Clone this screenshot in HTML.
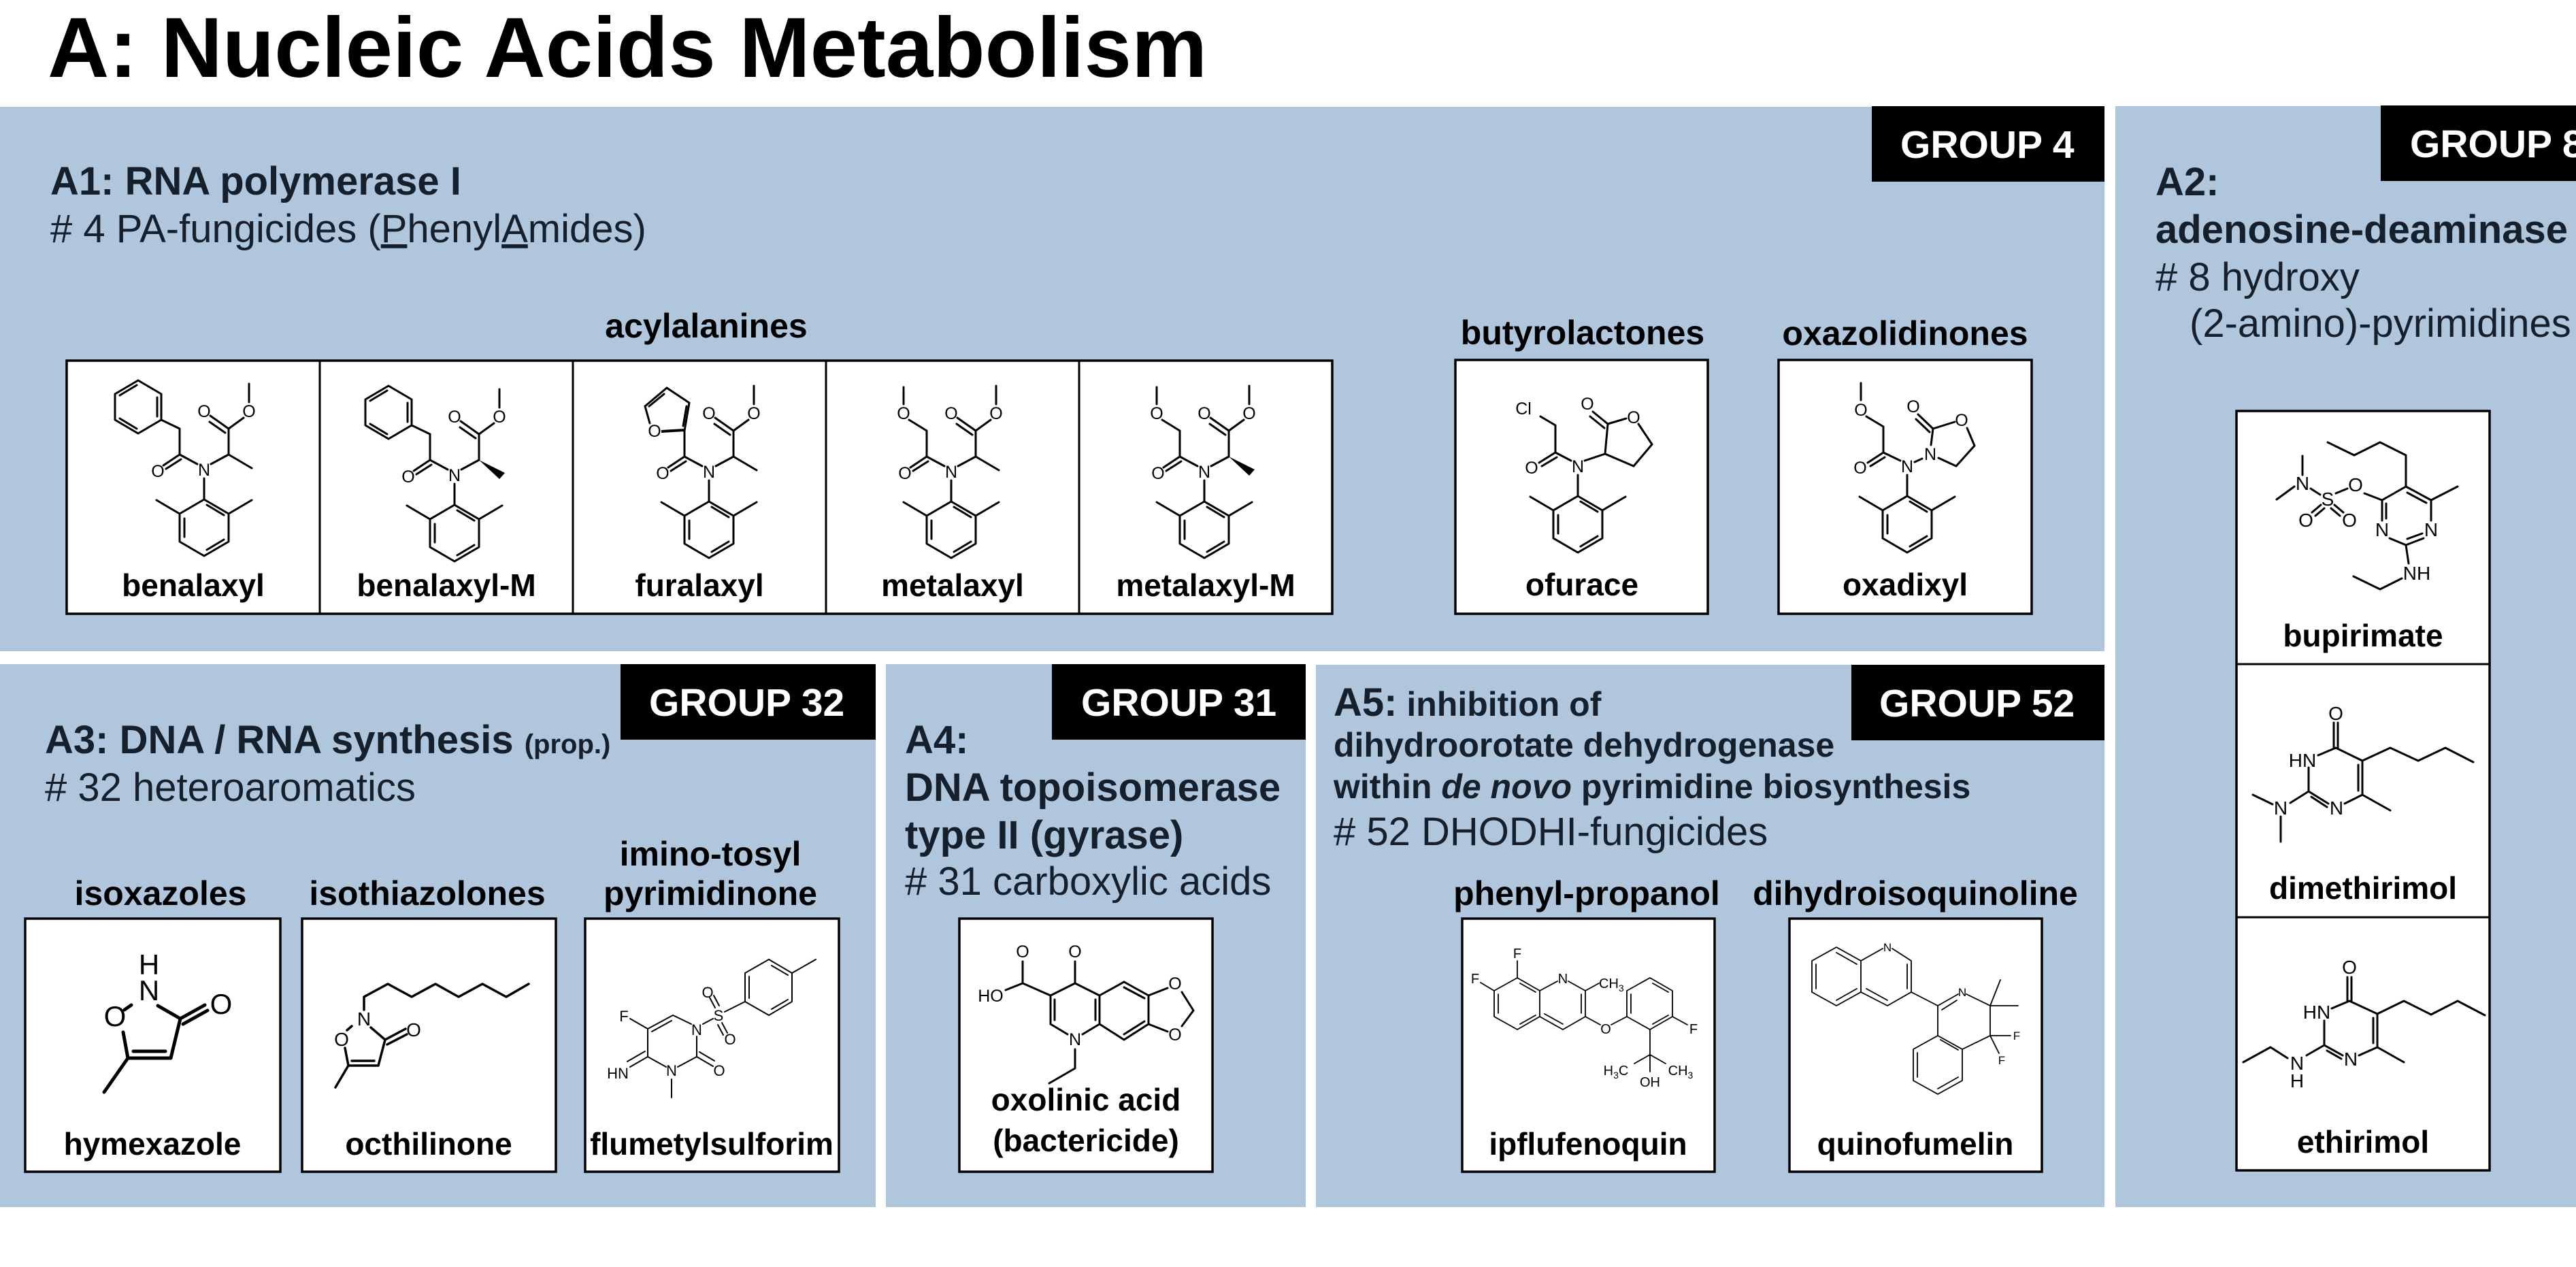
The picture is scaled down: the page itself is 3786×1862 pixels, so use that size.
<!DOCTYPE html>
<html><head><meta charset="utf-8">
<style>
html,body{margin:0;padding:0;background:#fff;width:3786px;height:1862px;overflow:hidden}
svg{display:block}
.h{font-weight:bold;font-size:58px;fill:#16202c}
.r{font-size:58px;fill:#16202c}
.s{font-weight:bold;font-size:50px;fill:#000;text-anchor:middle}
.lb{font-weight:bold;font-size:46px;fill:#000;text-anchor:middle}
.g{font-weight:bold;font-size:57px;fill:#fff}
.bx{fill:#fff;stroke:#000;stroke-width:3.5}
.m{stroke:#000;fill:none;stroke-width:3;stroke-linecap:round;stroke-linejoin:round}
.a{font-size:25px;fill:#000;text-anchor:middle}
.a2{font-size:28px;fill:#000;text-anchor:middle}
.a3{font-size:22px;fill:#000;text-anchor:middle}
.a4{font-size:20px;fill:#000;text-anchor:middle}
.a5{font-size:17px;fill:#000;text-anchor:middle}
</style></head><body>
<svg width="3786" height="1862" viewBox="0 0 3786 1862" font-family="'Liberation Sans', Arial, sans-serif">
<!-- title -->
<text x="70" y="113" font-size="125" font-weight="bold" fill="#000">A: Nucleic Acids Metabolism</text>

<!-- panels -->
<rect x="0" y="157" width="3093" height="800" fill="#afc6dc"/>
<rect x="3109" y="156" width="677" height="1618" fill="#afc6dc"/>
<rect x="0" y="976" width="1287" height="798" fill="#afc6dc"/>
<rect x="1302" y="976" width="617" height="798" fill="#afc6dc"/>
<rect x="1934" y="977" width="1159" height="797" fill="#afc6dc"/>

<!-- group tags -->
<rect x="2751" y="156" width="342" height="111" fill="#000"/>
<text class="g" x="2793" y="232">GROUP 4</text>
<rect x="3499" y="155" width="300" height="111" fill="#000"/>
<text class="g" x="3542" y="231">GROUP 8</text>
<rect x="912" y="976" width="375" height="111" fill="#000"/>
<text class="g" x="954" y="1052">GROUP 32</text>
<rect x="1546" y="976" width="373" height="111" fill="#000"/>
<text class="g" x="1589" y="1052">GROUP 31</text>
<rect x="2721" y="977" width="372" height="111" fill="#000"/>
<text class="g" x="2762" y="1053">GROUP 52</text>

<!-- A1 header -->
<text class="h" x="74" y="286">A1: RNA polymerase I</text>
<text class="r" x="74" y="356"># 4 PA-fungicides (<tspan style="text-decoration:underline">P</tspan>henyl<tspan style="text-decoration:underline">A</tspan>mides)</text>

<!-- A2 header -->
<text class="h" x="3168" y="287">A2:</text>
<text class="h" x="3168" y="357">adenosine-deaminase</text>
<text class="r" x="3168" y="427"># 8 hydroxy</text>
<text class="r" x="3218" y="495">(2-amino)-pyrimidines</text>

<!-- A3 header -->
<text class="h" x="66" y="1107">A3: DNA / RNA synthesis <tspan font-size="40">(prop.)</tspan></text>
<text class="r" x="66" y="1177"># 32 heteroaromatics</text>

<!-- A4 header -->
<text class="h" x="1330" y="1107">A4:</text>
<text class="h" x="1330" y="1177">DNA topoisomerase</text>
<text class="h" x="1330" y="1247">type II (gyrase)</text>
<text class="r" x="1330" y="1315"># 31 carboxylic acids</text>

<!-- A5 header -->
<text class="h" x="1960" y="1052">A5:<tspan font-size="50"> inhibition of</tspan></text>
<text class="h" x="1960" y="1112" style="font-size:50px">dihydroorotate dehydrogenase</text>
<text class="h" x="1960" y="1173" style="font-size:50px">within <tspan font-style="italic">de novo</tspan> pyrimidine biosynthesis</text>
<text class="r" x="1960" y="1242"># 52 DHODHI-fungicides</text>

<!-- sub headers -->
<text class="s" x="1038" y="496">acylalanines</text>
<text class="s" x="2326" y="506">butyrolactones</text>
<text class="s" x="2800" y="507">oxazolidinones</text>
<text class="s" x="236" y="1330">isoxazoles</text>
<text class="s" x="628" y="1330">isothiazolones</text>
<text class="s" x="1044" y="1272">imino-tosyl</text>
<text class="s" x="1044" y="1330">pyrimidinone</text>
<text class="s" x="2332" y="1330">phenyl-propanol</text>
<text class="s" x="2815" y="1330">dihydroisoquinoline</text>

<!-- boxes -->
<rect class="bx" x="98" y="530" width="1860" height="372"/>
<path d="M470,530V902M842,530V902M1214,530V902M1586,530V902" stroke="#000" stroke-width="3"/>
<rect class="bx" x="2139" y="529" width="371" height="373"/>
<rect class="bx" x="2614" y="529" width="372" height="373"/>
<rect class="bx" x="3287" y="604" width="372" height="1116"/>
<path d="M3287,976H3659M3287,1348H3659" stroke="#000" stroke-width="3"/>
<rect class="bx" x="37" y="1350" width="375" height="372"/>
<rect class="bx" x="444" y="1350" width="373" height="372"/>
<rect class="bx" x="860" y="1350" width="373" height="372"/>
<rect class="bx" x="1410" y="1350" width="372" height="372"/>
<rect class="bx" x="2149" y="1350" width="371" height="372"/>
<rect class="bx" x="2630" y="1350" width="371" height="372"/>

<!-- labels -->
<text class="lb" x="284" y="876">benalaxyl</text>
<text class="lb" x="656" y="876">benalaxyl-M</text>
<text class="lb" x="1028" y="876">furalaxyl</text>
<text class="lb" x="1400" y="876">metalaxyl</text>
<text class="lb" x="1772" y="876">metalaxyl-M</text>
<text class="lb" x="2325" y="875">ofurace</text>
<text class="lb" x="2800" y="875">oxadixyl</text>
<text class="lb" x="3473" y="950">bupirimate</text>
<text class="lb" x="3473" y="1321">dimethirimol</text>
<text class="lb" x="3473" y="1694">ethirimol</text>
<text class="lb" x="224" y="1697">hymexazole</text>
<text class="lb" x="630" y="1697">octhilinone</text>
<text class="lb" x="1046" y="1697">flumetylsulforim</text>
<text class="lb" x="1596" y="1632">oxolinic acid</text>
<text class="lb" x="1596" y="1692">(bactericide)</text>
<text class="lb" x="2334" y="1697">ipflufenoquin</text>
<text class="lb" x="2815" y="1697">quinofumelin</text>

<!-- benalaxyl -->
<g transform="translate(300,690)">
<path class="m" d="M-10,-8L-36,-22M-36,-22L-60,-6M-34,-15L-56,-1M10,-8L36,-22M36,-22L36,-60M36,-60L9,-79M31,-54L8,-70M36,-60L58,-76M66,-99L66,-126M0,13L0,44M0,44L36,65L36,106L0,127L-36,106L-36,65ZM4,52L29,67M-29,72L-29,99M29,103L4,118M-36,65L-70,45M36,65L70,45M36,-22L70,-2M-36,-22L-36,-60M-36,-60L-63,-73M-97,-131L-63,-111L-63,-73L-97,-53L-131,-73L-131,-111ZM-69,-106L-69,-78M-99,-60L-124,-75M-99,-124L-124,-109"/>
<text class="a" x="0" y="9">N</text><text class="a" x="-68" y="11">O</text><text class="a" x="0" y="-77">O</text><text class="a" x="66" y="-77">O</text>
</g>
<!-- benalaxyl-M -->
<g transform="translate(668,698)">
<path class="m" d="M-10,-8L-36,-22M-36,-22L-60,-6M-34,-15L-56,-1M10,-8L36,-22M36,-22L36,-60M36,-60L9,-79M31,-54L8,-70M36,-60L58,-76M66,-99L66,-126M0,13L0,44M0,44L36,65L36,106L0,127L-36,106L-36,65ZM4,52L29,67M-29,72L-29,99M29,103L4,118M-36,65L-70,45M36,65L70,45M-36,-22L-36,-60M-36,-60L-63,-73M-97,-131L-63,-111L-63,-73L-97,-53L-131,-73L-131,-111ZM-69,-106L-69,-78M-99,-60L-124,-75M-99,-124L-124,-109"/>
<path d="M36,-22L66,6L74,-3Z" fill="#000"/>
<text class="a" x="0" y="9">N</text><text class="a" x="-68" y="11">O</text><text class="a" x="0" y="-77">O</text><text class="a" x="66" y="-77">O</text>
</g>
<!-- furalaxyl -->
<g transform="translate(1042,693)">
<path class="m" d="M-10,-8L-36,-22M-36,-22L-60,-6M-34,-15L-56,-1M10,-8L36,-22M36,-22L36,-60M36,-60L9,-79M31,-54L8,-70M36,-60L58,-76M66,-99L66,-126M0,13L0,44M0,44L36,65L36,106L0,127L-36,106L-36,65ZM4,52L29,67M-29,72L-29,99M29,103L4,118M-36,65L-70,45M36,65L70,45M36,-22L70,-2M-36,-22L-36,-60M-36,-60L-29,-101M-38,-67L-33,-96M-29,-101L-62,-123M-62,-123L-94,-96M-66,-114L-88,-96M-94,-96L-87,-71"/>
<path d="M-70,-59L-36,-61" stroke="#000" stroke-width="4"/>
<text class="a" x="0" y="9">N</text><text class="a" x="-68" y="11">O</text><text class="a" x="0" y="-77">O</text><text class="a" x="66" y="-77">O</text><text class="a" x="-80" y="-51">O</text>
</g>
<!-- metalaxyl -->
<g transform="translate(1398,693)">
<path class="m" d="M-10,-8L-36,-22M-36,-22L-60,-6M-34,-15L-56,-1M10,-8L36,-22M36,-22L36,-60M36,-60L9,-79M31,-54L8,-70M36,-60L58,-76M66,-99L66,-126M0,13L0,44M0,44L36,65L36,106L0,127L-36,106L-36,65ZM4,52L29,67M-29,72L-29,99M29,103L4,118M-36,65L-70,45M36,65L70,45M36,-22L70,-2M-36,-22L-36,-60M-36,-60L-62,-76M-70,-99L-70,-124"/>
<text class="a" x="0" y="9">N</text><text class="a" x="-68" y="11">O</text><text class="a" x="0" y="-77">O</text><text class="a" x="66" y="-77">O</text><text class="a" x="-70" y="-77">O</text>
</g>
<!-- metalaxyl-M -->
<g transform="translate(1770,693)">
<path class="m" d="M-10,-8L-36,-22M-36,-22L-60,-6M-34,-15L-56,-1M10,-8L36,-22M36,-22L36,-60M36,-60L9,-79M31,-54L8,-70M36,-60L58,-76M66,-99L66,-126M0,13L0,44M0,44L36,65L36,106L0,127L-36,106L-36,65ZM4,52L29,67M-29,72L-29,99M29,103L4,118M-36,65L-70,45M36,65L70,45M-36,-22L-36,-60M-36,-60L-62,-76M-70,-99L-70,-124"/>
<path d="M36,-22L66,6L74,-3Z" fill="#000"/>
<text class="a" x="0" y="9">N</text><text class="a" x="-68" y="11">O</text><text class="a" x="0" y="-77">O</text><text class="a" x="66" y="-77">O</text><text class="a" x="-70" y="-77">O</text>
</g>
<!-- ofurace -->
<g transform="translate(2319,685)">
<path class="m" d="M-10,-8L-33,-20M-33,-20L-57,-5M-31,-13L-53,0M-33,-20L-33,-60M-33,-60L-55,-73M10,-8L40,-18M40,-18L44,-62M44,-62L22,-80M39,-56L18,-73M44,-62L71,-70M89,-62L109,-32M109,-32L82,0M82,0L40,-18M0,13L0,44M0,44L36,65L36,106L0,127L-36,106L-36,65ZM4,52L29,67M-29,72L-29,99M29,103L4,118M-36,65L-70,45M36,65L70,45"/>
<text class="a" x="0" y="9">N</text><text class="a" x="-68" y="11">O</text><text class="a" x="-80" y="-76">Cl</text><text class="a" x="14" y="-83">O</text><text class="a" x="82" y="-63">O</text>
</g>
<!-- oxadixyl -->
<g transform="translate(2803,685)">
<path class="m" d="M-10,-8L-35,-20M-35,-20L-58,-5M-33,-13L-54,0M-35,-20L-35,-58M-35,-58L-60,-73M-68,-97L-68,-122M11,-6L22,-11M35,-31L38,-55M38,-55L16,-76M33,-50L13,-69M38,-55L70,-65M88,-56L99,-30M99,-30L72,0M72,0L46,-12M0,13L0,44M0,44L36,65L36,106L0,127L-36,106L-36,65ZM4,52L29,67M-29,72L-29,99M29,103L4,118M-36,65L-70,45M36,65L70,45"/>
<text class="a" x="0" y="9">N</text><text class="a" x="-69" y="11">O</text><text class="a" x="-68" y="-74">O</text><text class="a" x="34" y="-9">N</text><text class="a" x="9" y="-79">O</text><text class="a" x="80" y="-59">O</text>
</g>

<!-- bupirimate -->
<path class="m" d="M3421,650L3460,669L3498,650L3536,669L3536,715M3536,715L3573,735M3538,724L3566,739M3573,735L3612,715M3573,735L3573,765M3562,791L3536,801M3560,784L3538,792M3536,801L3512,791M3501,765L3501,735M3507,762L3507,740M3501,735L3536,715M3501,735L3475,725M3450,718L3433,725M3411,742L3398,753M3416,747L3403,758M3431,742L3444,753M3426,747L3439,758M3410,727L3396,718M3384,698L3384,670M3372,715L3346,734M3536,801L3540,828M3530,850L3498,866L3459,847"/>
<text class="a2" x="3573" y="788">N</text><text class="a2" x="3501" y="788">N</text><text class="a2" x="3462" y="722">O</text><text class="a2" x="3421" y="743">S</text><text class="a2" x="3389" y="774">O</text><text class="a2" x="3453" y="774">O</text><text class="a2" x="3384" y="720">N</text><text class="a2" x="3552" y="852">NH</text>
<!-- dimethirimol -->
<path class="m" d="M3430,1062L3430,1099M3436,1062L3436,1099M3433,1099L3407,1110M3393,1128L3393,1163M3393,1163L3422,1181M3397,1171L3420,1186M3446,1181L3472,1168M3472,1168L3472,1118M3466,1162L3466,1124M3472,1118L3433,1099M3472,1168L3513,1191M3472,1118L3513,1099L3554,1118L3594,1099L3635,1120M3393,1163L3366,1180M3340,1182L3311,1168M3352,1200L3352,1237"/>
<text class="a2" x="3433" y="1058">O</text><text class="a2" x="3384" y="1127">HN</text><text class="a2" x="3434" y="1197">N</text><text class="a2" x="3352" y="1197">N</text>
<!-- ethirimol -->
<path class="m" d="M3450,1436L3450,1471M3456,1436L3456,1471M3453,1471L3427,1482M3416,1500L3416,1536M3416,1536L3443,1551M3420,1544L3441,1556M3467,1551L3494,1539M3494,1539L3494,1490M3488,1533L3488,1496M3494,1490L3453,1471M3494,1539L3533,1561M3494,1490L3533,1471L3573,1491L3612,1471L3652,1492M3416,1536L3390,1551M3362,1555L3337,1539L3297,1561"/>
<text class="a2" x="3453" y="1431">O</text><text class="a2" x="3405" y="1497">HN</text><text class="a2" x="3455" y="1566">N</text><text class="a2" x="3376" y="1572">N</text><text class="a2" x="3376" y="1598">H</text>

<!-- hymexazole -->
<path class="m" style="stroke-width:5" d="M232,1478L265,1497M265,1497L301,1477M269,1505L305,1485M265,1497L251,1555M251,1555L188,1555M243,1545L196,1545M188,1555L181,1517M183,1484L193,1477M188,1555L153,1605"/>
<text x="219" y="1432" font-size="42" text-anchor="middle">H</text>
<text x="219" y="1470" font-size="42" text-anchor="middle">N</text>
<text x="325" y="1490" font-size="42" text-anchor="middle">O</text>
<text x="169" y="1508" font-size="42" text-anchor="middle">O</text>
<!-- octhilinone -->
<path class="m" style="stroke-width:3.5" d="M535,1484L535,1465L570,1446L605,1465L640,1446L674,1465L709,1446L744,1465L777,1446M545,1510L566,1528M566,1528L596,1512M569,1535L598,1520M566,1528L556,1566M556,1566L512,1566M550,1559L517,1559M512,1566L507,1540M510,1514L517,1508M512,1566L493,1598"/>
<text class="a2" x="535" y="1507">N</text><text class="a2" x="608" y="1523">O</text><text class="a2" x="502" y="1537">O</text>
<!-- flumetylsulforim -->
<path class="m" style="stroke-width:2" d="M989,1492L1016,1505M989,1492L952,1512M987,1500L958,1516M952,1512L952,1553M952,1512L926,1497M952,1553L926,1568M948,1545L922,1560M952,1553L979,1568M996,1568L1024,1553M1024,1553L1024,1523M1024,1553L1048,1567M1028,1546L1050,1559M1033,1505L1048,1497M1051,1481L1043,1466M1057,1478L1049,1463M1061,1503L1069,1518M1055,1506L1063,1521M1065,1487L1095,1472M1095,1472L1095,1430L1130,1410L1164,1430L1164,1472L1130,1492ZM1101,1435L1101,1467M1134,1419L1158,1433M1158,1469L1134,1483M1164,1430L1199,1410M987,1586L987,1613"/>
<text class="a3" x="1024" y="1521">N</text><text class="a3" x="917" y="1501">F</text><text class="a3" x="908" y="1585">HN</text><text class="a3" x="987" y="1581">N</text><text class="a3" x="1057" y="1581">O</text><text class="a3" x="1056" y="1500">S</text><text class="a3" x="1040" y="1466">O</text><text class="a3" x="1073" y="1535">O</text>

<!-- oxolinic acid -->
<path class="m" style="stroke-width:3" d="M1478,1455L1503,1445M1503,1445L1503,1413M1503,1445L1544,1463M1544,1463L1580,1445M1580,1445L1580,1413M1544,1463L1544,1505M1550,1469L1550,1499M1544,1505L1569,1520M1591,1520L1616,1505M1616,1505L1616,1463M1610,1499L1610,1469M1616,1463L1580,1445M1616,1463L1652,1443M1652,1443L1688,1463M1652,1451L1682,1467M1688,1463L1688,1505M1688,1505L1652,1528M1682,1501L1652,1520M1652,1528L1616,1505M1688,1463L1716,1452M1688,1505L1716,1516M1737,1458L1754,1485L1737,1508M1580,1542L1580,1570L1542,1592"/>
<text class="a" x="1456" y="1472">HO</text><text class="a" x="1503" y="1407">O</text><text class="a" x="1580" y="1407">O</text><text class="a" x="1580" y="1536">N</text><text class="a" x="1727" y="1454">O</text><text class="a" x="1727" y="1529">O</text>

<!-- ipflufenoquin -->
<path class="m" style="stroke-width:1.8" d="M2230,1437L2196,1456L2196,1494L2230,1513L2263,1494L2263,1456ZM2202,1461L2202,1489M2234,1505L2257,1492M2234,1445L2257,1458M2263,1456L2289,1442M2305,1442L2330,1456L2330,1494L2297,1513L2263,1494M2324,1461L2324,1489M2297,1505L2270,1490M2230,1437L2230,1412M2196,1456L2176,1444M2330,1456L2350,1445M2330,1494L2352,1506M2368,1506L2391,1494M2391,1494L2391,1456L2425,1437L2458,1456L2458,1494L2425,1513ZM2397,1461L2397,1489M2429,1445L2452,1458M2429,1505L2452,1492M2458,1494L2480,1506M2425,1513L2425,1550M2425,1550L2402,1563M2425,1550L2448,1563M2425,1550L2425,1575"/>
<text class="a4" x="2230" y="1408">F</text><text class="a4" x="2168" y="1445">F</text><text class="a4" x="2297" y="1445">N</text>
<text x="2350" y="1452" font-size="20">CH<tspan font-size="14" dy="5">3</tspan></text>
<text class="a4" x="2360" y="1519">O</text><text class="a4" x="2489" y="1519">F</text>
<text x="2375" y="1580" font-size="20" text-anchor="middle">H<tspan font-size="14" dy="5">3</tspan><tspan dy="-5">C</tspan></text>
<text x="2470" y="1580" font-size="20" text-anchor="middle">CH<tspan font-size="14" dy="5">3</tspan></text>
<text class="a4" x="2425" y="1597">OH</text>

<!-- quinofumelin -->
<path class="m" style="stroke-width:1.8" d="M2663,1412L2699,1392L2735,1412L2735,1458L2699,1478L2663,1458ZM2669,1417L2669,1453M2699,1400L2729,1417M2699,1470L2729,1453M2735,1412L2767,1394M2781,1394L2809,1412L2809,1458L2774,1478L2735,1458M2803,1417L2803,1453M2774,1470L2743,1453M2809,1458L2848,1478M2878,1461L2848,1478L2848,1522L2884,1542L2925,1522L2925,1478L2890,1461M2854,1484L2876,1470M2848,1522L2812,1542L2812,1588L2848,1608L2884,1588L2884,1542M2818,1547L2818,1583M2848,1600L2878,1583M2852,1528L2878,1543M2925,1478L2940,1440M2925,1478L2966,1478M2925,1522L2955,1522M2925,1522L2938,1548"/>
<text class="a5" x="2774" y="1398">N</text><text class="a5" x="2884" y="1464">N</text><text class="a5" x="2964" y="1528">F</text><text class="a5" x="2942" y="1564">F</text>
</svg>
</body></html>
